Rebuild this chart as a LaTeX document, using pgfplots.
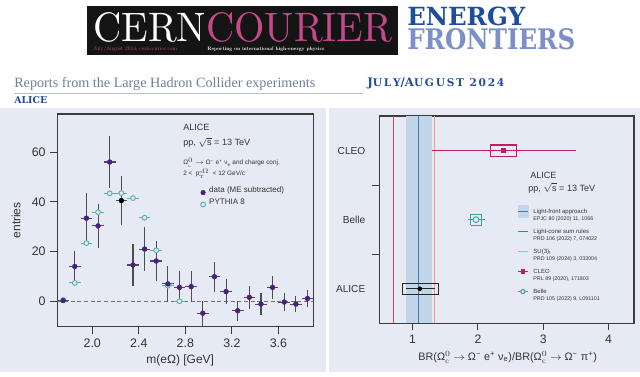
\documentclass[border=0pt]{standalone}
\usepackage{fontspec}
\setsansfont{Liberation Sans}
\renewcommand{\familydefault}{\sfdefault}
\newfontfamily\dvs{DejaVu Serif}
\newfontfamily\lis{Liberation Serif}
\usepackage{graphicx}
\usepackage{pgfplots}
\usepackage{pgfplotstable}
\pgfplotsset{compat=1.18}
\pgfplotsset{/pgf/number format/assume math mode=true}

\definecolor{panel}{HTML}{E6EAF4}
\definecolor{ccpink}{HTML}{C8498B}
\definecolor{efblue}{HTML}{1E4E9B}
\definecolor{eflight}{HTML}{7D8FC7}
\definecolor{repgray}{HTML}{6E8296}
\definecolor{rulegray}{HTML}{B4C0CC}
\definecolor{axgray}{HTML}{3C3C3C}
\definecolor{txtgray}{HTML}{333333}
\definecolor{datapurple}{HTML}{4B1F7F}
\definecolor{pyteal}{HTML}{55B1AC}
\definecolor{errgray}{HTML}{4D4D4D}
\definecolor{lcred}{HTML}{D6464E}
\definecolor{lfblue}{HTML}{3A7FB8}
\definecolor{lfband}{HTML}{C3D5E8}
\definecolor{suorange}{HTML}{F0A07A}
\definecolor{cleomag}{HTML}{C21C66}
\definecolor{belleteal}{HTML}{3AA5A0}

\newcommand{\Omc}{$\mbox{Ω}^{0}_{\mathrm{c}}$}
\newcommand{\NameS}{\rule[-1.5pt]{0pt}{5.4pt}}
\newcommand{\RefS}{\fontsize{4}{4.8}\selectfont\rule[-5.85pt]{0pt}{9.6pt}}

\pgfplotsset{
  markonly legend/.style={legend image code/.code={\draw[##1] plot coordinates {(2pt,0pt)};}},
  shortline legend/.style={legend image code/.code={\draw[mark repeat=2,mark phase=2,##1] plot coordinates {(0pt,0pt)(3.75pt,0pt)(7.5pt,0pt)};}},
  band legend/.style={legend image code/.code={\fill[lfband, overlay] (0pt,-4.5pt) rectangle (7.5pt,4.5pt); \draw[lfblue, line width=0.8pt] (0pt,0pt) -- (7.5pt,0pt);}},
}

\pgfplotstableread{
x y ex ey
1.75 0.3 0.05 1.0
1.85 14.0 0.05 6.2
1.95 33.4 0.05 10.0
2.05 30.3 0.05 9.0
2.15 56.0 0.05 10.5
2.35 14.6 0.05 8.4
2.45 21.0 0.05 8.7
2.55 16.2 0.05 8.2
2.65 7.0 0.05 7.1
2.75 5.6 0.05 6.5
2.85 5.9 0.05 6.3
2.95 -4.8 0.05 5.0
3.05 9.9 0.05 6.0
3.15 3.9 0.05 5.1
3.25 -3.8 0.05 4.0
3.35 1.6 0.05 4.5
3.45 -1.1 0.05 4.3
3.55 5.6 0.05 4.5
3.65 -0.3 0.05 3.6
3.75 -1.1 0.05 3.2
3.85 1.1 0.05 3.5
}\dataALICE

\pgfplotstableread{
x y ex ey
2.25 40.5 0.05 10.0
}\dataBlack

\pgfplotstableread{
x y ex
1.75 0.5 0.05
1.85 7.4 0.05
1.95 23.4 0.05
2.05 35.8 0.05
2.15 43.4 0.05
2.25 43.5 0.05
2.35 41.5 0.05
2.45 33.6 0.05
2.55 20.5 0.05
2.65 6.3 0.05
2.75 0.0 0.05
}\dataPythia

\begin{document}
\begin{tikzpicture}
\path[use as bounding box] (0,0) rectangle (480pt,282pt);
\fill[white] (0,0) rectangle (480pt,282pt);

% ---------- header ----------
\fill[black!92] (65.25pt,240.75pt) rectangle (298.5pt,277.5pt);
\node[anchor=base west, inner sep=0] at (69.75pt,250.5pt) {\resizebox{224.25pt}{21.75pt}{\rmfamily\color{white}CERN\color{ccpink}COURIER}};
\node[anchor=base west, inner sep=0] at (69.75pt,244.5pt) {\resizebox{63pt}{!}{\rmfamily\color{ccpink}July/August 2024, cerncourier.com}};
\node[anchor=base west, inner sep=0] at (155.25pt,244.5pt) {\resizebox{87.75pt}{!}{\rmfamily\bfseries\color{white}Reporting on international high-energy physics}};
\node[anchor=base west, inner sep=0] at (305.25pt,262.9pt) {\resizebox{88.5pt}{13.9pt}{\dvs\bfseries\color{efblue}ENERGY}};
\node[anchor=base west, inner sep=0] at (305.25pt,244.5pt) {\resizebox{126pt}{15.75pt}{\dvs\bfseries\color{eflight}FRONTIERS}};
\node[anchor=base west, inner sep=0] at (10.5pt,216.75pt) {\resizebox{225.75pt}{!}{\lis\color{repgray}Reports from the Large Hadron Collider experiments}};
\draw[rulegray, line width=0.75pt] (10.5pt,212.25pt) -- (272.25pt,212.25pt);
\node[anchor=base west, inner sep=0] at (275.25pt,217.5pt) {\resizebox{102.75pt}{!}{\dvs\bfseries\color{efblue}J{\small U\,L\,Y}/A{\small U\,G\,U\,S\,T\, 2\,0\,2\,4}}};
\node[anchor=base west, inner sep=0] at (10.5pt,204.75pt) {\resizebox{24.75pt}{!}{\dvs\bfseries\color{efblue}ALICE}};

% ---------- panels ----------
\fill[panel] (0pt,3pt) rectangle (244.5pt,201pt);
\fill[panel] (246.75pt,3pt) rectangle (480pt,201pt);

% ---------- left axis ----------
\begin{axis}[
  at={(43pt,37pt)}, anchor=south west, scale only axis,
  width=192pt, height=159.5pt,
  xmin=1.7, xmax=3.9, ymin=-10.2, ymax=75.3,
  xtick={2.0,2.4,2.8,3.2,3.6}, ytick={0,20,40,60},
  scaled ticks=false,
  xticklabel style={/pgf/number format/.cd, fixed, fixed zerofill, precision=1},
  tick pos=left, tick align=outside, major tick length=5.25pt,
  axis line style={draw=axgray, line width=0.9pt},
  tick style={draw=axgray, line width=0.8pt},
  tick label style={font=\fontsize{9.3}{11}\selectfont, text=txtgray},
  label style={font=\fontsize{9}{11}\selectfont, text=txtgray},
  xlabel={m(eΩ) [GeV]}, ylabel={entries},
  xlabel style={at={(axis description cs:0.48,-0.158)}, anchor=center},
  ylabel style={at={(axis description cs:-0.161,0.5)}, anchor=center},
  legend style={at={(axis description cs:0.559,0.660)}, anchor=north west, draw=none, fill=none, inner sep=0pt,
    font=\fontsize{6}{7}\selectfont, text=txtgray, nodes={inner sep=0pt, text depth=},
    /tikz/every odd column/.append style={column sep=2.8pt}},
  legend cell align=left,
]
\addplot[forget plot, errgray!80, dash pattern=on 3pt off 2pt, line width=0.6pt] coordinates {(1.7,0) (3.9,0)};
\addplot[forget plot, only marks, mark=*, mark size=1.8pt, mark options={draw=pyteal, fill=panel, line width=0.7pt},
  error bars/.cd, x dir=both, x explicit, error mark=none, error bar style={pyteal, line width=0.8pt}]
  table[x=x, y=y, x error=ex]{\dataPythia};
\addplot[forget plot, only marks, mark=*, mark size=1.8pt, color=datapurple,
  error bars/.cd, x dir=both, x explicit, y dir=both, y explicit, error mark=none, error bar style={errgray, line width=0.8pt}]
  table[x=x, y=y, x error=ex, y error=ey]{\dataALICE};
\addplot[forget plot, only marks, mark=*, mark size=1.8pt, color=black,
  error bars/.cd, x dir=both, x explicit, y dir=both, y explicit, error mark=none, error bar style={errgray, line width=0.8pt}]
  table[x=x, y=y, x error=ex, y error=ey]{\dataBlack};
\addlegendimage{markonly legend, only marks, mark=*, mark size=1.7pt, datapurple}
\addlegendentry{\rule[-4.5pt]{0pt}{9pt}data (ME subtracted)}
\addlegendimage{markonly legend, only marks, mark=*, mark size=1.8pt, mark options={draw=pyteal, fill=panel, line width=0.7pt}}
\addlegendentry{\rule[-4.5pt]{0pt}{9pt}PYTHIA 8}
\end{axis}

\node[anchor=base west, inner sep=0, text=txtgray, font=\fontsize{6.8}{8}\selectfont] at (137.25pt,183.9pt) {ALICE};
\node[anchor=base west, inner sep=0, text=txtgray, font=\fontsize{6.8}{8}\selectfont] at (137.25pt,172.65pt) {pp, $\sqrt{\mbox{s}}$ = 13 TeV};
\node[anchor=base west, inner sep=0, text=txtgray, font=\fontsize{4.8}{6}\selectfont] at (137.25pt,158.3pt) {\Omc\ $\rightarrow$ Ω\textsuperscript{−} e\textsuperscript{+} ν\textsubscript{e} and charge conj.};
\node[anchor=base west, inner sep=0, text=txtgray, font=\fontsize{4.8}{6}\selectfont] at (137.25pt,150.2pt) {2 < \ $\mbox{p}^{\mathrm{e}\Omega}_{\mathrm{T}}$ \ < 12 GeV/c};

% ---------- right axis ----------
\begin{axis}[
  at={(284.5pt,39.5pt)}, anchor=south west, scale only axis,
  width=191pt, height=155.5pt,
  xmin=0.49, xmax=4.39, ymin=-0.5, ymax=2.5,
  xtick={1,2,3,4}, ytick={0.5,1.5}, yticklabels={},
  extra y ticks={0,1,2}, extra y tick labels={ALICE,Belle,CLEO},
  extra y tick style={major tick length=0pt, tick style={draw=none},
    yticklabel style={font=\fontsize{7.6}{10}\selectfont, xshift=-7pt}},
  tick pos=left, tick align=outside, major tick length=5.25pt,
  axis line style={draw=axgray, line width=0.9pt},
  tick style={draw=axgray, line width=0.8pt},
  tick label style={font=\fontsize{9.2}{11}\selectfont, text=txtgray},
  label style={font=\fontsize{8.1}{10}\selectfont, text=txtgray},
  xlabel={BR(\Omc\ $\rightarrow$ Ω\textsuperscript{−} e\textsuperscript{+} ν\textsubscript{e})/BR(\Omc\ $\rightarrow$ Ω\textsuperscript{−} π\textsuperscript{+})},
  xlabel style={at={(axis description cs:0.504,-0.163)}, anchor=center},
  legend style={at={(axis description cs:0.541,0.558)}, anchor=north west, draw=none, fill=none, inner sep=0pt,
    font=\fontsize{4.5}{5.5}\selectfont, text=txtgray, nodes={inner sep=0pt, text depth=},
    /tikz/every odd column/.append style={column sep=3.75pt}},
  legend cell align=left,
]
\addplot[forget plot, fill=lfband, draw=none] coordinates {(0.897,-0.5) (1.29,-0.5) (1.29,2.5) (0.897,2.5)};
\addplot[forget plot, lcred, line width=0.8pt] coordinates {(0.70,-0.5) (0.70,2.5)};
\addplot[forget plot, lfblue, line width=0.8pt] coordinates {(1.086,-0.5) (1.086,2.5)};
\addplot[forget plot, suorange, line width=0.8pt] coordinates {(1.34,-0.5) (1.34,2.5)};
% CLEO
\addplot[forget plot, cleomag, line width=0.8pt] coordinates {(1.29,2) (3.50,2)};
\addplot[forget plot, cleomag, line width=0.8pt] coordinates {(2.19,1.92) (2.59,1.92) (2.59,2.08) (2.19,2.08) (2.19,1.92)};
\addplot[forget plot, only marks, mark=square*, mark size=1.6pt, cleomag] coordinates {(2.39,2)};
% Belle
\addplot[forget plot, belleteal, line width=0.8pt] coordinates {(1.85,1) (2.11,1)};
\addplot[forget plot, belleteal, line width=0.8pt] coordinates {(1.89,0.92) (2.06,0.92) (2.06,1.08) (1.89,1.08) (1.89,0.92)};
\addplot[forget plot, only marks, mark=*, mark size=2.2pt, mark options={draw=belleteal, fill=panel, line width=0.7pt}] coordinates {(1.97,1)};
% ALICE
\addplot[forget plot, black!85, line width=0.8pt] coordinates {(0.90,0) (1.34,0)};
\addplot[forget plot, black!85, line width=0.8pt] coordinates {(0.84,-0.08) (1.39,-0.08) (1.39,0.08) (0.84,0.08) (0.84,-0.08)};
\addplot[forget plot, only marks, mark=*, mark size=1.5pt, black] coordinates {(1.11,0)};
% legend
\addlegendimage{band legend}
\addlegendentry{\NameS Light-front approach}
\addlegendimage{empty legend}
\addlegendentry{\RefS EPJC 80 (2020) 11, 1066}
\addlegendimage{shortline legend, lcred, line width=0.8pt}
\addlegendentry{\NameS Light-cone sum rules}
\addlegendimage{empty legend}
\addlegendentry{\RefS PRD 106 (2022) 7, 074022}
\addlegendimage{shortline legend, suorange, line width=0.8pt}
\addlegendentry{\NameS SU(3)\textsubscript{f}}
\addlegendimage{empty legend}
\addlegendentry{\RefS PRD 109 (2024) 3, 033004}
\addlegendimage{shortline legend, cleomag, line width=0.8pt, mark=square*, mark size=1.3pt}
\addlegendentry{\NameS CLEO}
\addlegendimage{empty legend}
\addlegendentry{\RefS PRL 89 (2020), 171803}
\addlegendimage{shortline legend, belleteal, line width=0.8pt, mark=*, mark size=1.6pt, mark options={fill=panel}}
\addlegendentry{\NameS Belle}
\addlegendimage{empty legend}
\addlegendentry{\RefS PRD 105 (2022) 9, L091101}
\end{axis}

\node[anchor=base west, inner sep=0, text=txtgray, font=\fontsize{6.8}{8}\selectfont] at (397.5pt,148.3pt) {ALICE};
\node[anchor=base west, inner sep=0, text=txtgray, font=\fontsize{6.8}{8}\selectfont] at (396pt,138.75pt) {pp, $\sqrt{\mbox{s}}$ = 13 TeV};
\end{tikzpicture}
\end{document}
